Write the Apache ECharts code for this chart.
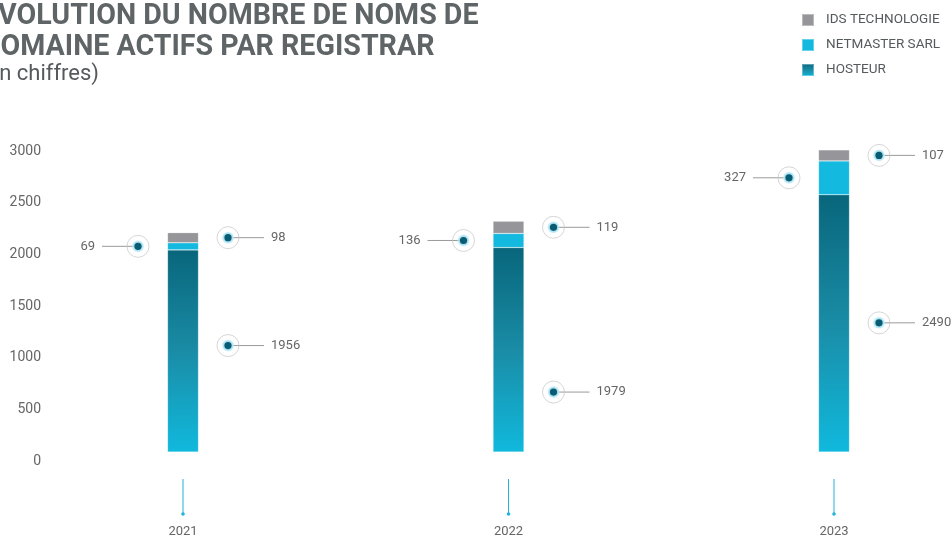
<!DOCTYPE html>
<html>
<head>
<meta charset="utf-8">
<script src="https://cdn.jsdelivr.net/npm/echarts@6/dist/echarts.min.js"></script>
<style>html,body{margin:0;padding:0;background:#fff;}#c{width:952px;height:542px;}</style>
</head>
<body>
<div id="c"></div>
<script>
// ---- data ----
const categories = ['2021', '2022', '2023'];
const hosteur = [1956, 1979, 2490];
const netmaster = [69, 136, 327];
const ids = [98, 119, 107];
const yTicks = [0, 500, 1000, 1500, 2000, 2500, 3000];
// value level at which the HOSTEUR call-out sits
const hosteurCallout = [1030, 580, 1250];

const FONT = 'Roboto';
const chart = echarts.init(document.getElementById('c'));

// build call-out list: [categoryIndex, valueLevel, label, side]
const callouts = [];
categories.forEach((c, i) => {
  callouts.push([i, hosteurCallout[i], String(hosteur[i]), 1]);
  callouts.push([i, hosteur[i] + netmaster[i] / 2, String(netmaster[i]), -1]);
  callouts.push([i, hosteur[i] + netmaster[i] + ids[i] / 2, String(ids[i]), 1]);
});

const hosteurGrad = {
  type: 'linear', x: 0, y: 0, x2: 0, y2: 1,
  colorStops: [
    { offset: 0, color: '#08667b' },
    { offset: 0.5, color: '#1a8ca6' },
    { offset: 1, color: '#10b9dd' }
  ]
};

const option = {
  animation: false,
  textStyle: { fontFamily: FONT },
  title: [
    {
      text: 'ÉVOLUTION DU NOMBRE DE NOMS DE\nDOMAINE ACTIFS PAR REGISTRAR',
      left: -23, top: -4,
      textStyle: { fontFamily: FONT, fontSize: 28.6, fontWeight: 'bold', color: '#5f6567', lineHeight: 31 }
    },
    {
      text: '(en chiffres)',
      left: -25, top: 58,
      textStyle: { fontFamily: FONT, fontSize: 22, fontWeight: 'normal', color: '#555a5c' }
    }
  ],
  legend: {
    orient: 'vertical',
    left: 796, top: 8,
    itemWidth: 12, itemHeight: 12, itemGap: 11,
    icon: 'rect',
    data: ['IDS TECHNOLOGIE', 'NETMASTER SARL', 'HOSTEUR'],
    textStyle: { fontFamily: FONT, fontSize: 13.5, color: '#555a5c', padding: [0, 0, 0, 7] }
  },
  grid: { left: 183, right: 118, top: 142, bottom: 90, containLabel: false },
  xAxis: {
    type: 'category',
    data: categories,
    boundaryGap: false,
    axisLine: { show: false },
    axisTick: { show: false },
    axisLabel: { margin: 73, fontFamily: FONT, fontSize: 13, color: '#666' },
    splitLine: { show: false }
  },
  yAxis: {
    type: 'value',
    min: yTicks[0], max: yTicks[yTicks.length - 1], interval: 500,
    axisLine: { show: false },
    axisTick: { show: false },
    splitLine: { show: false },
    axisLabel: { margin: 142, fontFamily: FONT, fontSize: 14, color: '#666', verticalAlign: 'top',
                 padding: [2, 0, 0, 0], formatter: v => String(v) }
  },
  series: [
    {
      name: 'HOSTEUR', type: 'bar', stack: 's', barWidth: 31,
      data: hosteur,
      itemStyle: { color: hosteurGrad, borderColor: 'rgba(255,255,255,0.35)', borderWidth: 0.6 }
    },
    {
      name: 'NETMASTER SARL', type: 'bar', stack: 's', barWidth: 31,
      data: netmaster,
      itemStyle: { color: '#13b9de', borderColor: 'rgba(255,255,255,0.35)', borderWidth: 0.6 }
    },
    {
      name: 'IDS TECHNOLOGIE', type: 'bar', stack: 's', barWidth: 31,
      data: ids,
      itemStyle: { color: '#95959a', borderColor: 'rgba(255,255,255,0.35)', borderWidth: 0.6 }
    },
    {
      // x axis decorative stems
      type: 'custom', silent: true, clip: false, z: 5,
      data: categories.map((c, i) => [i, 0]),
      renderItem: function (params, api) {
        const p = api.coord([api.value(0), 0]);
        return {
          type: 'group',
          children: [
            { type: 'line', shape: { x1: p[0], y1: p[1] + 27, x2: p[0], y2: p[1] + 62 },
              style: { stroke: '#22b4da', lineWidth: 1 } },
            { type: 'circle', shape: { cx: p[0], cy: p[1] + 62, r: 1.8 },
              style: { fill: '#22b4da' } }
          ]
        };
      }
    },
    {
      // value call-outs
      type: 'custom', silent: true, clip: false, z: 6,
      data: callouts.map(c => [c[0], c[1]]),
      renderItem: function (params, api) {
        const c = callouts[params.dataIndex];
        const side = c[3];
        const p = api.coord([api.value(0), api.value(1)]);
        const cx = p[0] + side * 45, cy = p[1];
        return {
          type: 'group',
          children: [
            { type: 'line', shape: { x1: cx, y1: cy, x2: cx + side * 36, y2: cy },
              style: { stroke: '#9a9a9a', lineWidth: 1 } },
            { type: 'circle', shape: { cx: cx, cy: cy, r: 11 },
              style: { fill: 'none', stroke: '#c4c4c4', lineWidth: 0.7 } },
            { type: 'circle', shape: { cx: cx, cy: cy, r: 6 },
              style: { fill: {
                type: 'radial', x: 0.5, y: 0.5, r: 0.5,
                colorStops: [{ offset: 0, color: '#7fd3ee' }, { offset: 0.7, color: '#a6e0f2' }, { offset: 1, color: 'rgba(200,236,248,0.6)' }]
              } } },
            { type: 'circle', shape: { cx: cx, cy: cy, r: 3.6 },
              style: { fill: '#0a5c72' } },
            { type: 'text', x: cx + side * 43, y: cy,
              style: { text: c[2], fill: '#666', font: '13px ' + FONT,
                       align: side > 0 ? 'left' : 'right', verticalAlign: 'middle' } }
          ]
        };
      }
    }
  ]
};
chart.setOption(option);
</script>
</body>
</html>
